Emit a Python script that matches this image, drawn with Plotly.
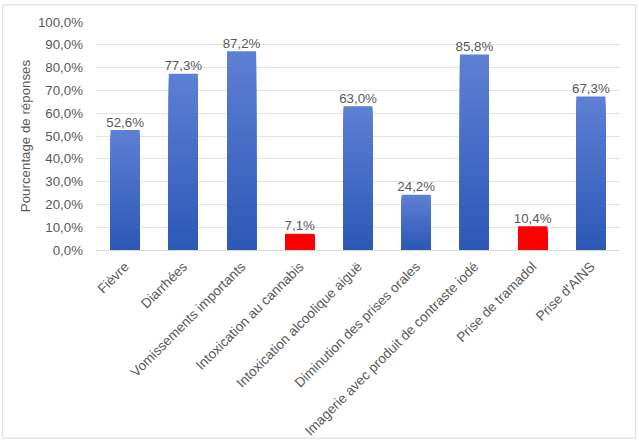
import plotly.graph_objects as go

categories = ["Fièvre", "Diarrhées", "Vomissements importants", "Intoxication au cannabis",
              "Intoxication alcoolique aiguë", "Diminution des prises orales",
              "Imagerie avec produit de contraste iodé", "Prise de tramadol", "Prise d'AINS"]
values = [52.6, 77.3, 87.2, 7.1, 63.0, 24.2, 85.8, 10.4, 67.3]
highlight = [False, False, False, True, False, False, False, True, False]
y_ticks = [0, 10, 20, 30, 40, 50, 60, 70, 80, 90, 100]
y_tick_text = [("%.1f" % v).replace(".", ",") + "%" for v in y_ticks]

TOP = (94, 128, 212)
BOT = (44, 88, 182)
RED = "#FF0000"
N = 40
FONT = "Liberation Sans, Arial"
GREY = "#595959"

fig = go.Figure()
# gradient: draw from tallest (lightest) to shortest (darkest), overlaid
for k in range(N, 0, -1):
    t = (k - 0.5) / N  # 0 bottom -> 1 top
    c = tuple(int(round(BOT[i] + (TOP[i] - BOT[i]) * t)) for i in range(3))
    blue = "rgb(%d,%d,%d)" % c
    fig.add_trace(go.Bar(
        x=categories,
        y=[v * k / N for v in values],
        marker=dict(color=[RED if h else blue for h in highlight], line=dict(width=0)),
        width=0.5, showlegend=False, hoverinfo="skip",
    ))

fig.add_trace(go.Scatter(
    x=categories, y=values, mode="text",
    text=[("%.1f" % v).replace(".", ",") + "%" for v in values],
    textposition="top center",
    textfont=dict(size=13.3, color=GREY, family=FONT),
    showlegend=False, hoverinfo="skip", cliponaxis=False,
))

fig.update_layout(
    barmode="overlay",
    width=639, height=442,
    margin=dict(l=96, r=19, t=22, b=192),
    paper_bgcolor="white", plot_bgcolor="white",
    font=dict(family=FONT, size=13.3, color=GREY),
    xaxis=dict(tickangle=-45, showgrid=False, showline=False, ticks="",
               ticklabelstandoff=5, automargin=False,
               tickfont=dict(size=13.6, color=GREY, family=FONT)),
    yaxis=dict(range=[0, 100], tickvals=y_ticks, ticktext=y_tick_text,
               showgrid=True, gridcolor="#E4E4E4", gridwidth=1,
               zeroline=True, zerolinecolor="#D9D9D9", zerolinewidth=1,
               ticklabelstandoff=12, automargin=False,
               tickfont=dict(size=13.3, color=GREY, family=FONT),
               title=dict(text="Pourcentage de réponses", font=dict(size=13.3, color=GREY, family=FONT),
                          standoff=4)),
    shapes=[dict(type="rect", xref="paper", yref="paper",
                 x0=-0.178, x1=1.03, y0=-0.825, y1=1.075,
                 line=dict(color="#D9D9D9", width=1), fillcolor="rgba(0,0,0,0)", layer="below")],
)

fig.write_html("out.html")
